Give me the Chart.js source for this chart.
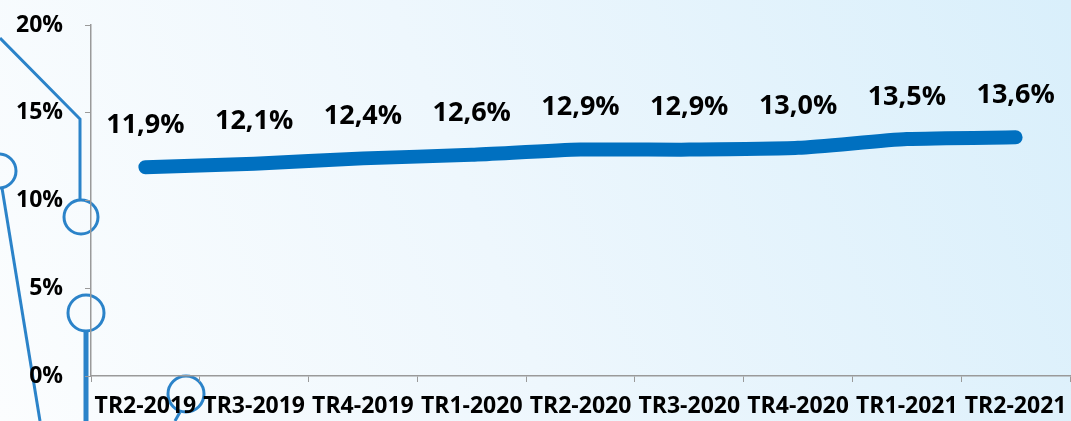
<!DOCTYPE html>
<html>
<head>
<meta charset="utf-8">
<script src="https://cdn.jsdelivr.net/npm/chart.js@4/dist/chart.umd.min.js"></script>
<style>
  html, body { margin: 0; padding: 0; }
  body { width: 1071px; height: 421px; overflow: hidden; }
  #wrap { width: 1071px; height: 421px; }
</style>
</head>
<body>
<div id="wrap"><canvas id="rateChart"></canvas></div>
<script>
const quarters = ['TR2-2019', 'TR3-2019', 'TR4-2019', 'TR1-2020', 'TR2-2020', 'TR3-2020', 'TR4-2020', 'TR1-2021', 'TR2-2021'];
const rates = [11.9, 12.1, 12.4, 12.6, 12.9, 12.9, 13.0, 13.5, 13.6];
const yTicks = [0, 5, 10, 15, 20];

// slide background + decorative circles on the left
const backdrop = {
    id: 'backdrop',
    beforeDraw(chart) {
        const c = chart.ctx;
        const w = chart.width, h = chart.height;
        c.save();
        const g = c.createLinearGradient(0, h, w, 0);
        g.addColorStop(0, '#fbfdfe');
        g.addColorStop(0.45, '#eef7fd');
        g.addColorStop(1, '#d9effb');
        c.fillStyle = g;
        c.fillRect(0, 0, w, h);

        c.strokeStyle = '#2b83c9';
        c.lineWidth = 3;
        c.beginPath();
        c.moveTo(0, 38); c.lineTo(80, 119); c.lineTo(80, 200);
        c.stroke();
        c.beginPath(); c.arc(81, 217, 17, 0, Math.PI * 2); c.stroke();
        c.beginPath(); c.arc(-1, 171, 17, 0, Math.PI * 2); c.stroke();
        c.beginPath(); c.moveTo(2, 188); c.lineTo(40, 421); c.stroke();
        c.beginPath(); c.arc(86, 313, 18, 0, Math.PI * 2); c.stroke();
        c.beginPath(); c.arc(186, 394, 18, 0, Math.PI * 2); c.stroke();
        c.beginPath(); c.moveTo(180, 412); c.lineTo(175, 421); c.stroke();
        c.lineWidth = 5;
        c.beginPath(); c.moveTo(86, 331); c.lineTo(86, 421); c.stroke();
        c.restore();
    }
};

// value labels above each point
const valueLabels = {
    id: 'valueLabels',
    afterDatasetsDraw(chart) {
        const c = chart.ctx;
        const meta = chart.getDatasetMeta(0);
        c.save();
        c.font = 'bold 27px "Open Sans"';
        c.fillStyle = '#000';
        c.textAlign = 'center';
        c.textBaseline = 'middle';
        meta.data.forEach((pt, i) => {
            c.fillText(rates[i].toFixed(1).replace('.', ',') + '%', pt.x, pt.y - 42);
        });
        c.restore();
    }
};

const ctx = document.getElementById('rateChart').getContext('2d');
const rateChart = new Chart(ctx, {
    type: 'line',
    data: {
        labels: quarters,
        datasets: [{
            data: rates,
            borderColor: '#0070c0',
            borderWidth: 14,
            borderCapStyle: 'round',
            borderJoinStyle: 'round',
            pointRadius: 0,
            tension: 0.2,
            fill: false
        }]
    },
    options: {
        responsive: true,
        maintainAspectRatio: false,
        animation: false,
        layout: { padding: { top: 25, right: 1, left: 0, bottom: 0 } },
        plugins: {
            legend: { display: false },
            tooltip: { enabled: false }
        },
        scales: {
            x: {
                offset: true,
                grid: { display: true, drawOnChartArea: false, drawTicks: true, tickLength: 6, color: '#9a9a9a', offset: true },
                border: { display: true, color: '#9a9a9a', width: 1.5 },
                ticks: {
                    color: '#000',
                    font: { family: 'Open Sans', weight: 'bold', size: 23 },
                    maxRotation: 0,
                    autoSkip: false,
                    padding: 11
                },
                afterFit(scale) {
                    scale.height = 45;
                    scale.paddingLeft = 0;
                    scale.paddingRight = 0;
                }
            },
            y: {
                min: 0,
                max: 20,
                afterBuildTicks(scale) { scale.ticks = yTicks.map(v => ({ value: v })); },
                grid: { display: true, drawOnChartArea: false, drawTicks: true, tickLength: 6, color: '#9a9a9a' },
                border: { display: true, color: '#9a9a9a', width: 1.5 },
                ticks: {
                    color: '#000',
                    font: { family: 'Open Sans', weight: 'bold', size: 23 },
                    padding: 22,
                    callback: v => v + '%'
                },
                afterFit(scale) {
                    scale.width = 91;
                    scale.paddingTop = 0;
                    scale.paddingBottom = 0;
                }
            }
        }
    },
    plugins: [backdrop, valueLabels]
});
</script>
</body>
</html>
